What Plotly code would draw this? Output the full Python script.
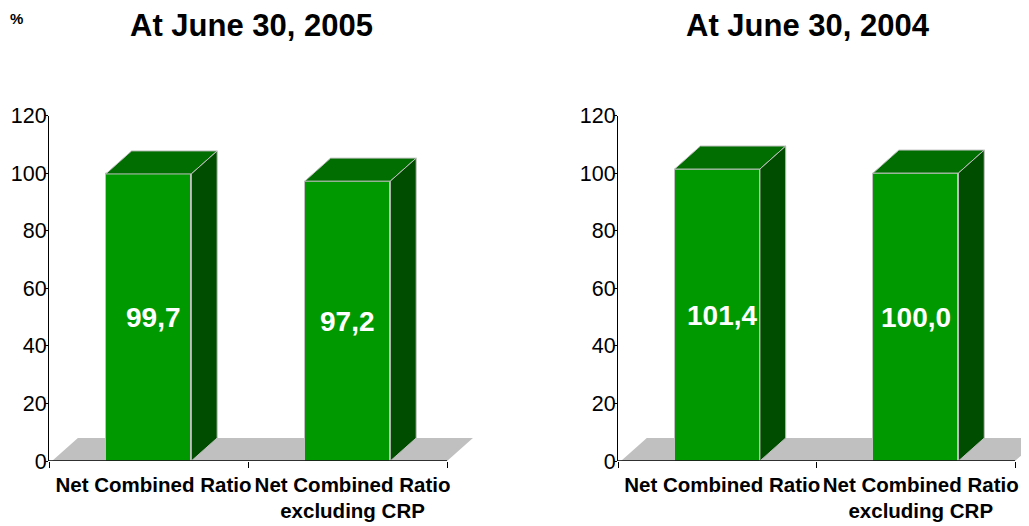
import plotly.graph_objects as go

# ---- data ----
categories = ["Net Combined Ratio", "Net Combined Ratio<br>excluding CRP"]
values_2005 = [99.7, 97.2]
values_2004 = [101.4, 100.0]
panel_titles = ["At June 30, 2005", "At June 30, 2004"]
y_ticks = [0, 20, 40, 60, 80, 100, 120]

W, H = 1029, 526
OX, OY = 8, 8   # page body margin offset
FONT = "Arial, 'Liberation Sans', sans-serif"
FRONT = "#009900"
TOP = "#006e00"
SIDE = "#004d00"
EDGE = "#c0c0c0"
FLOOR = "#c0c0c0"

half = 0.215      # half bar width (category units)
dx = 0.13         # depth offset in x (category units)
dy = 8.0          # depth offset in y (value units)
label_shift = [5, 0]  # horizontal nudge of value labels (px)


def fx(p):
    return (p - OX) / W


def fy(p):
    return 1 - (p - OY) / H


fig = go.Figure()

panels = [
    dict(vals=values_2005, xa="x", ya="y", dom=[fx(49), fx(474.9)], rng=[-0.5, 1.64]),
    dict(vals=values_2004, xa="x2", ya="y2", dom=[fx(618), fx(1029)], rng=[-0.5, 1.5705]),
]

xs = list(range(len(categories)))

for i, p in enumerate(panels):
    vals = p["vals"]
    # front faces
    fig.add_trace(go.Bar(
        x=xs, y=vals, width=2 * half, xaxis=p["xa"], yaxis=p["ya"],
        marker=dict(color=FRONT, line=dict(color=EDGE, width=1)),
        hoverinfo="skip",
    ))
    for x, v, sh in zip(xs, vals, label_shift):
        # top face
        fig.add_trace(go.Scatter(
            x=[x - half, x - half + dx, x + half + dx, x + half, x - half],
            y=[v, v + dy, v + dy, v, v],
            mode="lines", fill="toself", fillcolor=TOP,
            line=dict(color=EDGE, width=1), xaxis=p["xa"], yaxis=p["ya"],
            hoverinfo="skip",
        ))
        # side face
        fig.add_trace(go.Scatter(
            x=[x + half, x + half, x + half + dx, x + half + dx, x + half],
            y=[0, v, v + dy, dy, 0],
            mode="lines", fill="toself", fillcolor=SIDE,
            line=dict(color=EDGE, width=1), xaxis=p["xa"], yaxis=p["ya"],
            hoverinfo="skip",
        ))
        # value label
        fig.add_annotation(
            x=x, y=v / 2, xref=p["xa"], yref=p["ya"], xshift=sh,
            text="<b>" + f"{v:.1f}".replace(".", ",") + "</b>",
            showarrow=False, xanchor="center", yanchor="middle",
            font=dict(color="white", size=28, family=FONT),
        )
    # floor
    x0, x1 = -0.5 + 0.015, len(categories) - 0.5
    fig.add_shape(type="path", xref=p["xa"], yref=p["ya"], layer="below",
                  path=f"M {x0},0 L {x0 + dx},{dy} L {x1 + dx},{dy} L {x1},0 Z",
                  fillcolor=FLOOR, line=dict(width=0))
    # baseline (x axis line)
    fig.add_shape(type="line", xref=p["xa"], yref=p["ya"], layer="above",
                  x0=-0.5, x1=len(categories) - 0.5, y0=0, y1=0,
                  line=dict(color="black", width=1.3))

    axis_name = "xaxis" if i == 0 else "xaxis2"
    yaxis_name = "yaxis" if i == 0 else "yaxis2"
    fig.update_layout(**{
        axis_name: dict(
            domain=p["dom"], range=p["rng"], anchor=p["ya"], automargin=False,
            tickvals=xs, ticktext=[f"<b>{c}</b>" for c in categories],
            tickfont=dict(size=20.5, color="black", family=FONT), tickangle=0,
            ticks="", showgrid=False, zeroline=False, showline=False,
            ticklabelshift=5, ticklabelstandoff=9,
            minor=dict(tickvals=[-0.5, 0.5, 1.5], ticks="outside", ticklen=6,
                       tickcolor="black", tickwidth=1, showgrid=False),
        ),
        yaxis_name: dict(
            domain=[fy(461), fy(115.5)], range=[0, 120], anchor=p["xa"], automargin=False,
            tickvals=y_ticks, tickfont=dict(size=21.5, color="black", family=FONT),
            ticks="outside", ticklen=3, tickcolor="black", tickwidth=1,
            ticklabelstandoff=-6,
            showgrid=False, zeroline=False, showline=True,
            linecolor="black", linewidth=1,
        ),
    })

# panel titles
for t, cx in zip(panel_titles, [251, 808]):
    fig.add_annotation(text=f"<b>{t}</b>", x=fx(cx), y=fy(25), xref="paper", yref="paper",
                       xanchor="center", yanchor="middle", showarrow=False,
                       font=dict(size=31, color="black", family=FONT))

fig.add_annotation(text="<b>%</b>", x=0, y=1, xref="paper", yref="paper",
                   xanchor="left", yanchor="top", showarrow=False,
                   font=dict(size=15, color="black", family=FONT))

fig.update_layout(
    width=W, height=H, margin=dict(l=0, r=0, t=0, b=0, autoexpand=False),
    paper_bgcolor="white", plot_bgcolor="white", showlegend=False,
    bargap=0,
)

fig.write_html("out.html")
